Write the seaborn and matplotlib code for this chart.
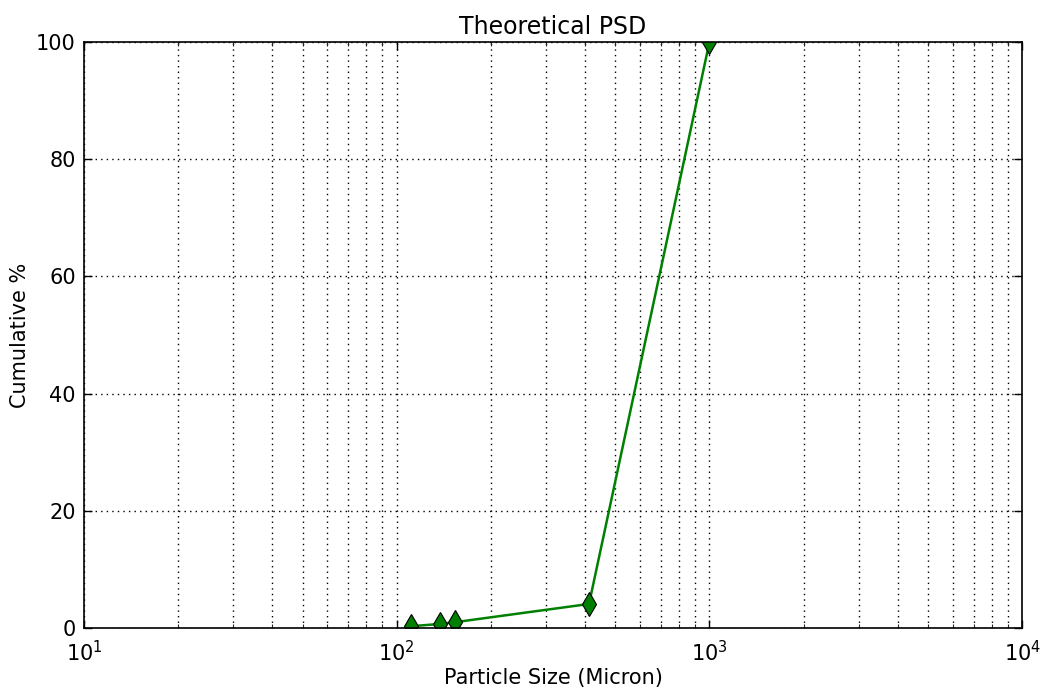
import matplotlib
matplotlib.use("Agg")
import matplotlib.pyplot as plt
import numpy as np
import pandas as pd
import seaborn as sns

# particle size (micron) and cumulative percent passing
size_micron = [111, 138, 154, 412, 1000]
cumulative_pct = [0.3, 0.7, 1.0, 4.1, 100.0]


def main():
    sns.set_theme(style="white")
    plt.rcParams["font.family"] = ["DejaVu Sans"]
    plt.rcParams["text.color"] = "black"
    plt.rcParams["axes.labelcolor"] = "black"
    plt.rcParams["xtick.direction"] = "in"
    plt.rcParams["ytick.direction"] = "in"

    df = pd.DataFrame({"size": size_micron, "cum": cumulative_pct})

    fig = plt.figure(figsize=(10.41, 6.93), dpi=100)
    ax = fig.add_axes([0.0807, 0.0938, 0.9012, 0.8456])

    sns.lineplot(data=df, x="size", y="cum", ax=ax, color="green", lw=1.8,
                 marker="d", markersize=12, markerfacecolor="green",
                 markeredgecolor="black", markeredgewidth=0.8, clip_on=True)
    ax.set_xscale("log")
    ax.set_xlim(10, 10000)
    ax.set_ylim(0, 100)
    ax.set_yticks(np.arange(0, 101, 20))

    ax.grid(True, which="both", color="black", ls=(0, (1, 3)), lw=1)
    ax.tick_params(which="major", length=6, width=1, labelsize=15, top=True, right=True,
                   bottom=True, left=True, colors="black")
    ax.tick_params(axis="x", which="major", pad=9)
    ax.tick_params(axis="y", which="major", pad=6)
    ax.tick_params(which="minor", length=3, width=0.8, top=True, bottom=True)
    for s in ax.spines.values():
        s.set_color("black")
        s.set_linewidth(1.2)

    ax.set_title("Theoretical PSD", fontsize=17, color="black")
    ax.set_xlabel("Particle Size (Micron)", fontsize=15, labelpad=2)
    ax.set_ylabel("Cumulative %", fontsize=15)

    fig.savefig("out.png", dpi=100)
    plt.close(fig)


if __name__ == "__main__":
    main()
